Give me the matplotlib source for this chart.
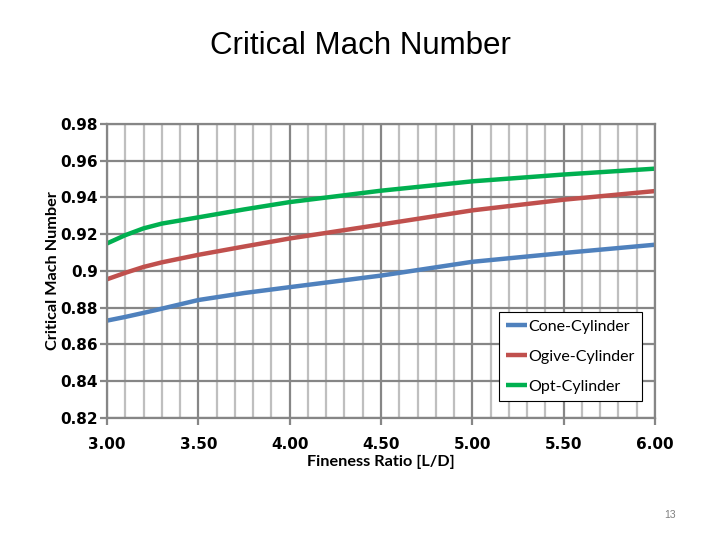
import matplotlib
matplotlib.use("Agg")
import matplotlib.pyplot as plt
from matplotlib.ticker import MultipleLocator, FormatStrFormatter

fineness = [3.0, 3.1, 3.2, 3.3, 3.5, 3.75, 4.0, 4.5, 5.0, 5.5, 6.0]
cone = [0.873, 0.875, 0.8772, 0.8795, 0.8842, 0.888, 0.8912, 0.8975, 0.905, 0.9098, 0.9143]
ogive = [0.8955, 0.899, 0.9022, 0.9047, 0.9088, 0.9133, 0.9177, 0.9253, 0.933, 0.9388, 0.9435]
opt = [0.915, 0.9195, 0.9232, 0.9258, 0.9292, 0.9335, 0.9375, 0.9437, 0.9488, 0.9525, 0.9557]
series_names = ["Cone-Cylinder", "Ogive-Cylinder", "Opt-Cylinder"]
colors = ["#4F81BD", "#C0504D", "#00B050"]

plt.rcParams["font.family"] = ["DejaVu Sans"]
plt.rcParams["font.weight"] = "bold"

fig = plt.figure(figsize=(7.2, 5.4), dpi=100)
ax = fig.add_axes([107/720, 1-418/540, (655-107)/720, (418-124)/540])

for ys, name, c in zip([cone, ogive, opt], series_names, colors):
    ax.plot(fineness, ys, color=c, lw=3.2, label=name, solid_capstyle="butt")

ax.set_xlim(3.0, 6.0)
ax.set_ylim(0.82, 0.98)
ax.xaxis.set_major_locator(MultipleLocator(0.5))
ax.xaxis.set_minor_locator(MultipleLocator(0.1))
ax.yaxis.set_major_locator(MultipleLocator(0.02))
ax.xaxis.set_major_formatter(FormatStrFormatter("%.2f"))
ax.yaxis.set_major_formatter(lambda v, p: "0.9" if abs(v-0.9) < 1e-6 else f"{v:.2f}")

ax.grid(which="minor", axis="x", color="#BFBFBF", lw=1.6)
ax.grid(which="major", axis="both", color="#868686", lw=1.6)
ax.set_axisbelow(True)
for s in ax.spines.values():
    s.set_color("#868686")
    s.set_linewidth(1.6)

ax.tick_params(which="major", length=5, width=1.6, color="#868686", labelsize=11)
ax.tick_params(which="minor", length=0)
ax.tick_params(axis="y", pad=1.5)
ax.tick_params(axis="x", pad=9)

ax.set_xlabel("Fineness Ratio [L/D]", fontsize=11.7, fontweight="bold", family="Lato", labelpad=2)
ax.set_ylabel("Critical Mach Number", fontsize=11.7, fontweight="bold", family="Lato", labelpad=0)

leg = ax.legend(loc="lower right", bbox_to_anchor=(642/720, 1-401/540), bbox_transform=fig.transFigure,
                borderaxespad=0, fancybox=False, framealpha=1, edgecolor="black", handlelength=1.3,
                handletextpad=0.1, labelspacing=1.0, borderpad=0.45,
                prop={"family": "Lato", "size": 11.5, "weight": "normal"})
leg.get_frame().set_linewidth(0.8)

fig.text(0.5, 1-46/540, "Critical Mach Number", ha="center", va="center", fontsize=22.5,
         family="Liberation Sans", fontweight="normal")
fig.text(670/720, 1-515/540, "13", ha="center", va="center", fontsize=7.5, color="#7F7F7F",
         family="Liberation Sans", fontweight="normal")

fig.savefig("out.png", dpi=100)
